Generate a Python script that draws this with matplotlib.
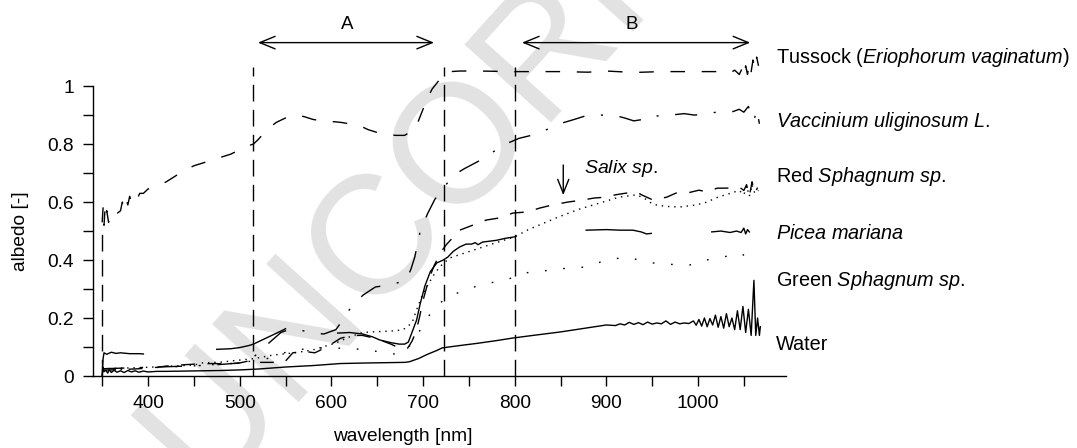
import numpy as np
import matplotlib
matplotlib.use("Agg")
import matplotlib.pyplot as plt
from matplotlib.ticker import MultipleLocator, FuncFormatter

plt.rcParams["font.family"] = "Liberation Sans"
plt.rcParams["mathtext.fontset"] = "custom"
plt.rcParams["mathtext.rm"] = "Liberation Sans"
plt.rcParams["mathtext.it"] = "Liberation Sans:italic"

nan = np.nan

# --- spectra (wavelength nm, albedo) ---
wl_tussock = [350, 351, 352, 353, 354, 355, 357, 359, 362, 370, 372, 374, 376, 378, 380, 382,
              385, 388, 391, 395, 400, 410, 420, 430, 440, 450, 460, 470, 480, 490, 500, 510,
              515, 520, 530, 540, 550, 560, 570, 580, 590, 600, 610, 620, 630, 640, 650, 660,
              670, 680, 690, 695, 700, 705, 710, 715, 720, 725, 730, 740, 760, 800, 850, 880,
              900, 930, 960, 990, 1010, 1025, 1035, 1040, 1045, 1048, 1050, 1052, 1054, 1056,
              1058, 1060, 1062, 1064, 1066]
alb_tussock = [0.53, 0.58, 0.52, 0.57, 0.54, 0.57, 0.53, 0.56, 0.55, 0.57, 0.60, 0.58, 0.61, 0.59,
               0.62, 0.60, 0.62, 0.61, 0.63, 0.63, 0.645, 0.655, 0.67, 0.69, 0.71, 0.725, 0.735,
               0.745, 0.755, 0.765, 0.78, 0.795, 0.80, 0.815, 0.85, 0.875, 0.89, 0.90, 0.895,
               0.885, 0.88, 0.878, 0.875, 0.87, 0.865, 0.85, 0.84, 0.835, 0.83, 0.83, 0.85, 0.88,
               0.92, 0.96, 0.99, 1.01, 1.03, 1.04, 1.05, 1.052, 1.052, 1.05, 1.05, 1.048, 1.052,
               1.047, 1.05, 1.05, 1.05, 1.05, 1.045, 1.055, 1.04, 1.06, 1.035, 1.07, 1.04, 1.08,
               1.05, 1.09, 1.06, 1.10, 1.07]

wl_vaccinium = [350, 400, 450, 480, 500, 505, 515, 522, 533, 545, 555, 565, 578, 592, 605, 614,
                623, 635, 648, 665, 682, 687, 691, 697, 705, 713, 723, 732, 745, 760, 775, 790,
                805, 818, 835, 849, 865, 880, 895, 908, 920, 930, 940, 950, 960, 970, 985, 996,
                1010, 1020, 1030, 1038, 1045, 1050, 1055, 1058, 1061, 1064, 1067]
alb_vaccinium = [0.025, 0.03, 0.035, 0.04, 0.045, 0.05, 0.065, 0.084, 0.117, 0.15, 0.162, 0.16,
                 0.148, 0.145, 0.16, 0.20, 0.245, 0.28, 0.307, 0.315, 0.33, 0.37, 0.41, 0.50,
                 0.56, 0.61, 0.65, 0.69, 0.715, 0.74, 0.77, 0.80, 0.82, 0.83, 0.85, 0.87, 0.885,
                 0.90, 0.90, 0.90, 0.89, 0.88, 0.885, 0.90, 0.895, 0.90, 0.905, 0.90, 0.905,
                 0.91, 0.915, 0.912, 0.92, 0.91, 0.93, 0.90, 0.88, 0.92, 0.87]

wl_salix = [350, 370, 390, 410, 422, 440, 451, 470, 490, 500, 510, 520, 535, 549, 558, 570, 582,
            595, 610, 622, 634, 645, 655, 665, 675, 683, 688, 692, 696, 700, 706, 712, 720, 726,
            740, 754, 769, 783, 798, 814, 827, 841, 858, 874, 887, 900, 910, 922, 933, 939, 951,
            966, 976, 988, 1001, 1010, 1021, 1031, 1045, 1050, 1053, 1056, 1059, 1062, 1065]
alb_salix = [0.02, 0.022, 0.025, 0.03, 0.035, 0.039, 0.041, 0.043, 0.042, 0.045, 0.052, 0.047,
             0.047, 0.048, 0.08, 0.085, 0.08, 0.10, 0.13, 0.14, 0.14, 0.132, 0.122, 0.11, 0.095,
             0.095, 0.12, 0.15, 0.20, 0.26, 0.33, 0.38, 0.43, 0.455, 0.503, 0.52, 0.538, 0.545,
             0.562, 0.566, 0.579, 0.59, 0.60, 0.607, 0.614, 0.617, 0.625, 0.631, 0.635, 0.624,
             0.607, 0.617, 0.631, 0.631, 0.641, 0.635, 0.648, 0.648, 0.652, 0.64, 0.66, 0.62,
             0.67, 0.63, 0.65]

wl_red_sph = [350, 400, 451, 458, 480, 500, 516, 536, 560, 580, 605, 620, 634, 650, 665, 678, 688,
              693, 698, 704, 711, 718, 729, 751, 775, 800, 815, 830, 849, 870, 893, 914, 933,
              942, 951, 965, 980, 998, 1010, 1020, 1035, 1045, 1050, 1053, 1056, 1059, 1062,
              1066]
alb_red_sph = [0.025, 0.03, 0.038, 0.045, 0.048, 0.055, 0.06, 0.072, 0.08, 0.09, 0.114, 0.135,
               0.15, 0.153, 0.155, 0.159, 0.183, 0.228, 0.27, 0.307, 0.345, 0.376, 0.407, 0.43,
               0.455, 0.48, 0.505, 0.525, 0.55, 0.575, 0.597, 0.617, 0.625, 0.612, 0.592, 0.585,
               0.583, 0.59, 0.60, 0.615, 0.63, 0.64, 0.625, 0.655, 0.62, 0.66, 0.63, 0.64]

wl_green_sph = [350, 400, 450, 500, 530, 558, 590, 623, 647, 669, 680, 690, 698, 709, 718, 727,
                751, 771, 791, 809, 830, 857, 878, 900, 922, 936, 951, 971, 991, 1009, 1027,
                1045, 1055, 1064]
alb_green_sph = [0.02, 0.028, 0.035, 0.045, 0.06, 0.09, 0.097, 0.095, 0.086, 0.076, 0.085, 0.12,
                 0.165, 0.22, 0.25, 0.273, 0.303, 0.32, 0.331, 0.355, 0.362, 0.372, 0.376, 0.40,
                 0.41, 0.40, 0.39, 0.385, 0.383, 0.40, 0.41, 0.424, 0.41, 0.40]

wl_picea = [350, 351, 352, 355, 360, 365, 370, 380, 390, 395, 396, 475, 490, 500, 510, 515, 525,
            535, 545, 550, 551, 607, 620, 634, 645, 653, 665, 674, 680, 684, 689, 693, 697, 702,
            708, 715, 722, 727, 733, 740, 747, 753, 757, 760, 765, 780, 790, 800, 801, 878, 900,
            915, 929, 938, 944, 949, 950, 1015, 1025, 1035, 1042, 1047, 1050, 1052, 1054, 1056]
alb_picea = [0.0, 0.06, 0.08, 0.075, 0.082, 0.078, 0.08, 0.077, 0.077, 0.076, nan, 0.092, 0.094,
             0.098, 0.105, 0.11, 0.125, 0.14, 0.155, 0.163, nan, 0.148, 0.15, 0.145, 0.135,
             0.124, 0.115, 0.11, 0.11, 0.117, 0.159, 0.193, 0.25, 0.31, 0.36, 0.39, 0.40, 0.41,
             0.43, 0.445, 0.455, 0.455, 0.46, 0.453, 0.462, 0.468, 0.475, 0.48, nan, 0.503,
             0.505, 0.503, 0.503, 0.497, 0.49, 0.492, nan, 0.497, 0.50, 0.495, 0.50, 0.495,
             0.51, 0.49, 0.505, 0.497]

wl_water = [350, 351, 352, 354, 356, 358, 360, 363, 366, 370, 374, 378, 382, 386, 390, 395, 400,
            410, 420, 440, 460, 480, 500, 520, 550, 580, 610, 640, 660, 680, 685, 695, 705, 715,
            721, 740, 760, 780, 798, 820, 850, 875, 900, 910, 915, 920, 925, 930, 935, 940, 945,
            950, 955, 960, 965, 970, 975, 980, 985, 990, 995, 998, 1001, 1004, 1007, 1010, 1013,
            1016, 1019, 1022, 1025, 1028, 1031, 1034, 1037, 1040, 1043, 1046, 1049, 1052, 1055,
            1058, 1061, 1063, 1065, 1067, 1068]
alb_water = [0.0, 0.03, 0.015, 0.02, 0.01, 0.022, 0.012, 0.02, 0.013, 0.018, 0.012, 0.019, 0.014,
             0.018, 0.013, 0.017, 0.014, 0.016, 0.016, 0.017, 0.018, 0.019, 0.021, 0.024, 0.031,
             0.036, 0.043, 0.045, 0.046, 0.047, 0.049, 0.06, 0.075, 0.088, 0.097, 0.105, 0.113,
             0.122, 0.131, 0.14, 0.152, 0.164, 0.176, 0.174, 0.18, 0.176, 0.185, 0.178, 0.184,
             0.177, 0.186, 0.179, 0.183, 0.18, 0.19, 0.178, 0.186, 0.18, 0.183, 0.181, 0.19,
             0.175, 0.195, 0.172, 0.20, 0.17, 0.198, 0.176, 0.21, 0.168, 0.205, 0.165, 0.215,
             0.17, 0.20, 0.16, 0.225, 0.16, 0.24, 0.15, 0.23, 0.14, 0.33, 0.14, 0.20, 0.14, 0.17]

# band limits (nm) and label rows
band_lines = [350, 515, 723, 800]
band_tops = [0.5, 1.065, 1.065, 1.065]
band_a = (520, 712)
band_b = (808, 1057)

label_texts = [r"Tussock ($\mathit{Eriophorum\ vaginatum}$)",
               r"$\mathit{Vaccinium\ uliginosum\ L.}$",
               r"Red $\mathit{Sphagnum\ sp.}$",
               r"$\mathit{Picea\ mariana}$",
               r"Green $\mathit{Sphagnum\ sp.}$",
               "Water"]
label_y = [1.097, 0.877, 0.687, 0.493, 0.331, 0.107]

fig = plt.figure(figsize=(10.77, 4.48), dpi=100)
ax = fig.add_axes([93 / 1077, 72 / 448, 693 / 1077, 376 / 448])
ax.patch.set_alpha(0)

# faint watermark behind everything
ax.text(0.19, -0.10, "UNCORRECTED", transform=fig.transFigure, fontsize=122,
        color="#e2e2e2", rotation=48, rotation_mode="anchor", ha="left", va="baseline",
        zorder=0, clip_on=False)

k = dict(color="black", lw=1.0, zorder=3)
ax.plot(wl_water, alb_water, ls="-", **k)
ax.plot(wl_picea, alb_picea, ls="-", **k)
ax.plot(wl_green_sph, alb_green_sph, ls=(0, (1.2, 12)), **k)
ax.plot(wl_red_sph, alb_red_sph, ls=(0, (1, 3.5)), **k)
ax.plot(wl_salix, alb_salix, ls=(0, (10, 9)), **k)
ax.plot(wl_vaccinium, alb_vaccinium, ls=(0, (16, 12, 1.5, 12)), **k)
ax.plot(wl_tussock, alb_tussock, ls=(0, (10.5, 12)), **k)

for xv, top in zip(band_lines, band_tops):
    ax.plot([xv, xv], [0, top], color="black", lw=1.0, ls=(0, (12, 6)), zorder=2)

arr = dict(arrowstyle="<->,head_length=1.1,head_width=0.45", color="black", lw=1.0,
           mutation_scale=10, shrinkA=0, shrinkB=0)
ax.annotate("", xy=(band_a[0], 1.15), xytext=(band_a[1], 1.15), arrowprops=arr,
            annotation_clip=False)
ax.annotate("", xy=(band_b[0], 1.15), xytext=(band_b[1], 1.15), arrowprops=arr,
            annotation_clip=False)
ax.text(sum(band_a) / 2 + 1, 1.214, "A", ha="center", va="center", fontsize=13.5)
ax.text(sum(band_b) / 2 - 5, 1.214, "B", ha="center", va="center", fontsize=13.5)

ax.annotate("", xy=(853, 0.624), xytext=(853, 0.728),
            arrowprops=dict(arrowstyle="->,head_length=1.0,head_width=0.4", color="black",
                            lw=1.0, mutation_scale=10, shrinkA=0, shrinkB=0))
ax.text(876, 0.717, r"$\mathit{Salix\ sp.}$", ha="left", va="center", fontsize=14)

for txt, yv in zip(label_texts, label_y):
    ax.text(1085, yv, txt, ha="left", va="center", fontsize=14.3, clip_on=False)

ax.set_xlim(340, 1096)
ax.set_ylim(0, 1.297)
for s in ("top", "right"):
    ax.spines[s].set_visible(False)
ax.spines["left"].set_bounds(0, 1)
ax.spines["left"].set_linewidth(1.0)
ax.spines["bottom"].set_linewidth(1.0)

ax.xaxis.set_minor_locator(MultipleLocator(50))
ax.set_xticks(np.arange(400, 1001, 100))
ax.set_yticks(np.arange(0, 1.01, 0.2))
ax.set_yticks(np.arange(0, 1.01, 0.1), minor=True)
ax.yaxis.set_major_formatter(FuncFormatter(lambda v, p: f"{v:g}"))
ax.tick_params(which="both", direction="out", length=7.5, width=1.0, labelsize=13.8)
ax.tick_params(axis="x", pad=6)
ax.tick_params(axis="y", pad=6)

ax.set_xlabel("wavelength [nm]", fontsize=13.8)
ax.xaxis.set_label_coords(0.447, -0.162)
ax.xaxis.label.set_va("center")
ax.set_ylabel("albedo [-]", fontsize=13.8)
ax.yaxis.set_label_coords(-0.105, 0.386)
ax.yaxis.label.set_va("center")

fig.savefig("out.png", dpi=100)
